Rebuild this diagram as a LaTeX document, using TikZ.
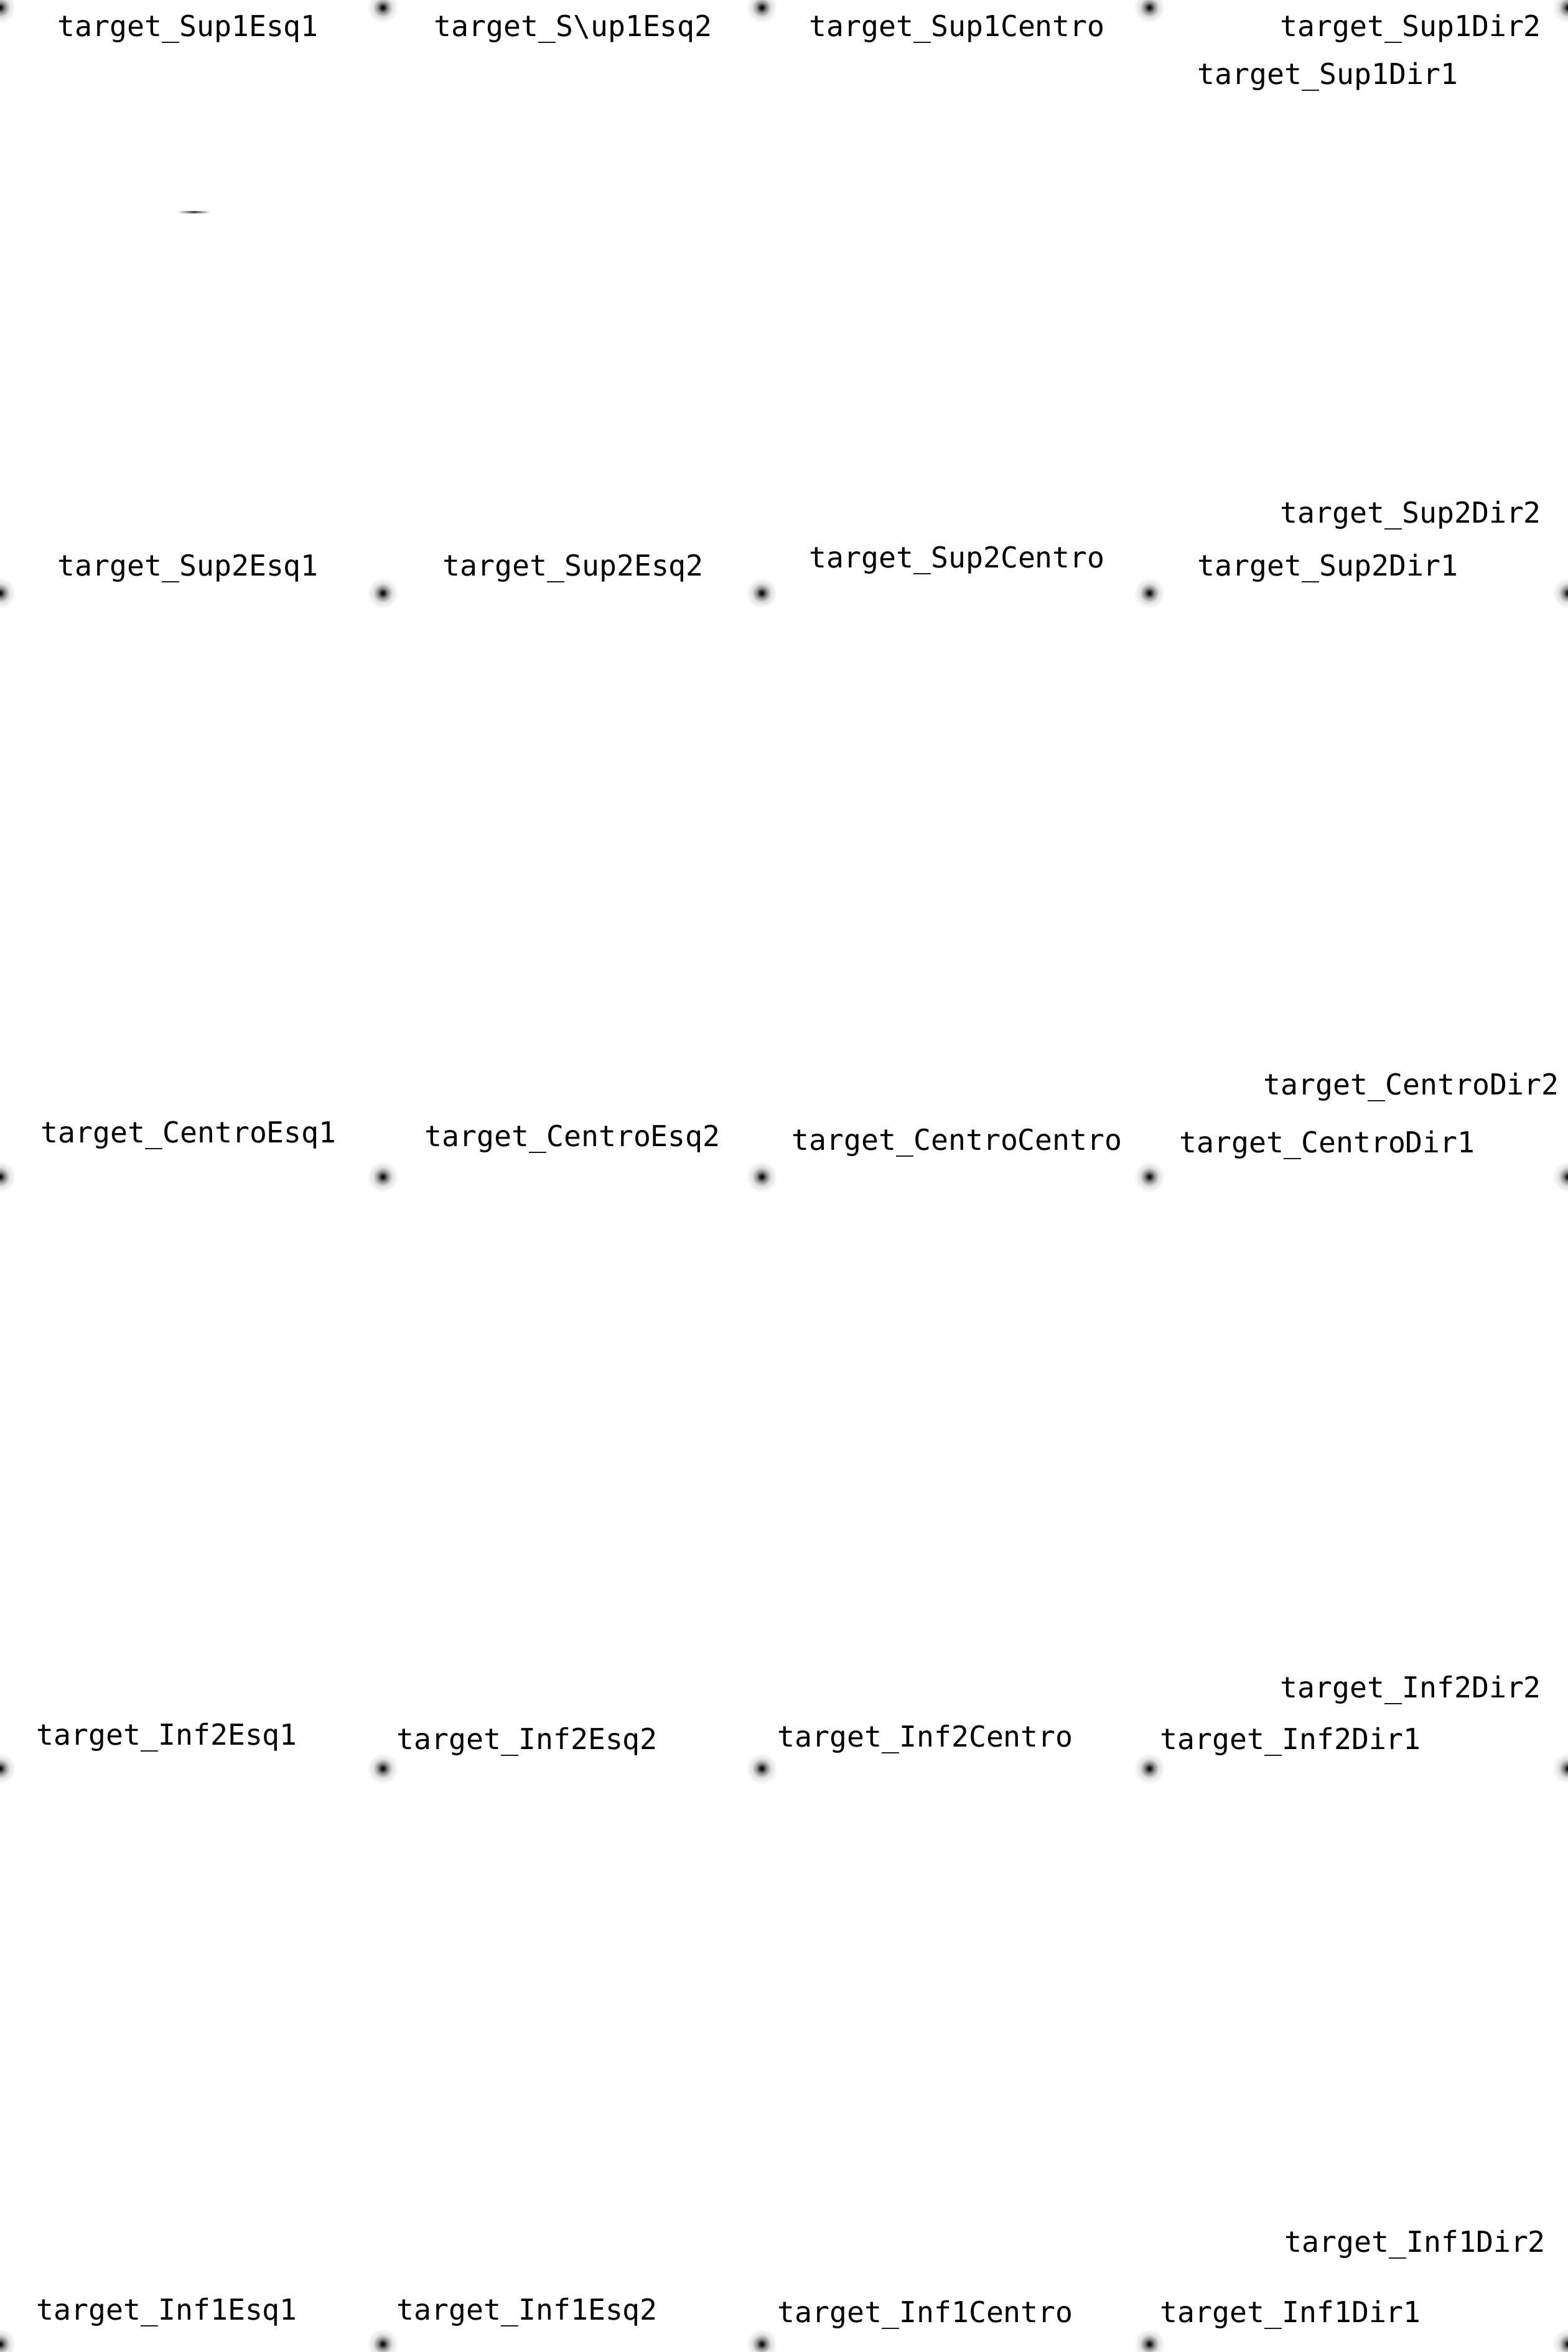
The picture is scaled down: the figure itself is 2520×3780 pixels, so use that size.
\documentclass[tikz,border=0pt]{standalone}
\usepackage{fontspec}
\usepackage{tikz}
\usetikzlibrary{positioning}
\newfontfamily\targetfont{DejaVu Sans Mono}

\pgfdeclareradialshading{blurdot}{\pgfpoint{0bp}{0bp}}{%
  color(0bp)=(black); color(3bp)=(black!85); color(8bp)=(black!45);
  color(15bp)=(black!12); color(25bp)=(white); color(50bp)=(white)}

\begin{document}
\begin{tikzpicture}[x=0.01cm, y=-0.01cm,
    target/.style={circle, inner sep=0pt, minimum size=0.5cm, shade, shading=blurdot},
    tlabel/.style={anchor=base west, inner sep=0pt, font=\targetfont\fontsize{13.2}{16}\selectfont}
]
\useasboundingbox (0,0) rectangle (2520,3780);
\fill[white] (0,0) rectangle (2520,3780);
\clip (0,0) rectangle (2520,3780);

% Targets
\node[target] (Sup1Esq1) at (0,12) {};
\node[target] (Sup1Esq2) at (615,12) {};
\node[target] (Sup1Centro) at (1224,12) {};
\node[target] (Sup1Dir1) at (1847,12) {};
\node[target] (Sup1Dir2) at (2520,12) {};
\node[target] (Sup2Esq1) at (0,953) {};
\node[target] (Sup2Esq2) at (615,953) {};
\node[target] (Sup2Centro) at (1224,953) {};
\node[target] (Sup2Dir1) at (1847,953) {};
\node[target] (Sup2Dir2) at (2520,953) {};
\node[target] (CentroEsq1) at (0,1891) {};
\node[target] (CentroEsq2) at (615,1891) {};
\node[target] (CentroCentro) at (1224,1891) {};
\node[target] (CentroDir1) at (1847,1891) {};
\node[target] (CentroDir2) at (2520,1891) {};
\node[target] (Inf2Esq1) at (0,2842) {};
\node[target] (Inf2Esq2) at (615,2842) {};
\node[target] (Inf2Centro) at (1224,2842) {};
\node[target] (Inf2Dir1) at (1847,2842) {};
\node[target] (Inf2Dir2) at (2520,2842) {};
\node[target] (Inf1Esq1) at (0,3767) {};
\node[target] (Inf1Esq2) at (615,3767) {};
\node[target] (Inf1Centro) at (1224,3767) {};
\node[target] (Inf1Dir1) at (1847,3767) {};
\node[target] (Inf1Dir2) at (2520,3767) {};

% Stray mark
\shade[left color=white, right color=white, middle color=black!70] (285,339) rectangle (338,342);

% Labels
\node[tlabel] (lSup1Esq1) at (92,58) {target\_Sup1Esq1};
\node[tlabel] (lSup1Esq2) at (697,58) {target\_S\textbackslash up1Esq2};
\node[tlabel] (lSup1Centro) at (1300,58) {target\_Sup1Centro};
\node[tlabel] (lSup1Dir2) at (2057,58) {target\_Sup1Dir2};
\node[tlabel] (lSup1Dir1) at (1924,135) {target\_Sup1Dir1};

\node[tlabel] (lSup2Esq1) at (92,925) {target\_Sup2Esq1};
\node[tlabel] (lSup2Esq2) at (711,925) {target\_Sup2Esq2};
\node[tlabel] (lSup2Centro) at (1300,912) {target\_Sup2Centro};
\node[tlabel] (lSup2Dir2) at (2057,840) {target\_Sup2Dir2};
\node[tlabel] (lSup2Dir1) at (1924,925) {target\_Sup2Dir1};

\node[tlabel] (lCentroEsq1) at (65,1836) {target\_CentroEsq1};
\node[tlabel] (lCentroEsq2) at (682,1842) {target\_CentroEsq2};
\node[tlabel] (lCentroCentro) at (1272,1848) {target\_CentroCentro};
\node[tlabel] (lCentroDir2) at (2030,1759) {target\_CentroDir2};
\node[tlabel] (lCentroDir1) at (1895,1852) {target\_CentroDir1};

\node[tlabel] (lInf2Esq1) at (58,2804) {target\_Inf2Esq1};
\node[tlabel] (lInf2Esq2) at (637,2811) {target\_Inf2Esq2};
\node[tlabel] (lInf2Centro) at (1249,2807) {target\_Inf2Centro};
\node[tlabel] (lInf2Dir2) at (2057,2728) {target\_Inf2Dir2};
\node[tlabel] (lInf2Dir1) at (1864,2811) {target\_Inf2Dir1};

\node[tlabel] (lInf1Esq1) at (58,3728) {target\_Inf1Esq1};
\node[tlabel] (lInf1Esq2) at (637,3728) {target\_Inf1Esq2};
\node[tlabel] (lInf1Centro) at (1249,3732) {target\_Inf1Centro};
\node[tlabel] (lInf1Dir2) at (2064,3619) {target\_Inf1Dir2};
\node[tlabel] (lInf1Dir1) at (1864,3732) {target\_Inf1Dir1};

\end{tikzpicture}
\end{document}
